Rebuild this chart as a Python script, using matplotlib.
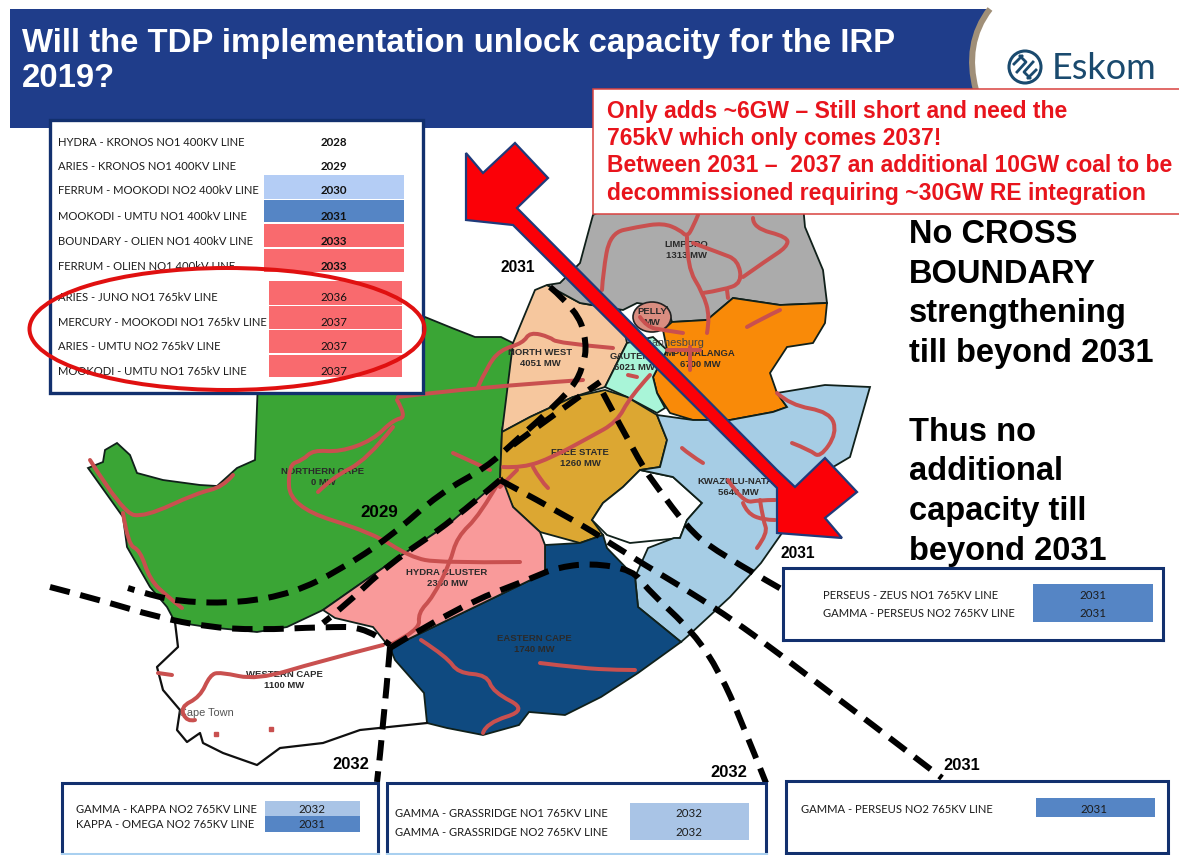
import matplotlib
matplotlib.use("Agg")
import matplotlib.pyplot as plt
from matplotlib.patches import Polygon, Rectangle, Ellipse, Circle, PathPatch
from matplotlib.path import Path

NAVY = "#12306e"
RED_LINE = "#c9504f"
SANS = "Liberation Sans"
LABEL = "Lato"

# ---- text content
TITLE = ["Will the TDP implementation unlock capacity for the IRP", "2019?"]
NOTE = ["Only adds ~6GW \u2013 Still short and need the",
        "765kV which only comes 2037!",
        "Between 2031 \u2013  2037 an additional 10GW coal to be",
        "decommissioned requiring ~30GW RE integration"]
SIDE1 = ["No CROSS", "BOUNDARY", "strengthening", "till beyond 2031"]
SIDE2 = ["Thus no", "additional", "capacity till", "beyond 2031"]

# ---- main table
main_lines = ["HYDRA - KRONOS NO1 400KV LINE", "ARIES - KRONOS NO1 400KV LINE",
              "FERRUM - MOOKODI NO2 400kV LINE", "MOOKODI - UMTU NO1 400kV LINE",
              "BOUNDARY - OLIEN NO1 400kV LINE", "FERRUM - OLIEN NO1 400kV LINE",
              "ARIES - JUNO NO1 765kV LINE", "MERCURY - MOOKODI NO1 765kV LINE",
              "ARIES - UMTU NO2 765kV LINE", "MOOKODI - UMTU NO1 765kV LINE"]
main_years = [2028, 2029, 2030, 2031, 2033, 2033, 2036, 2037, 2037, 2037]
main_y = [142, 167, 191, 216, 241, 266, 297, 322, 346, 371]
main_fill = [None, None, "#b4cdf5", "#5585c5", "#f96a6e", "#f96a6e",
             "#f96a6e", "#f96a6e", "#f96a6e", "#f96a6e"]
main_bar_top = [0, 0, 175, 200, 224, 249, 281, 306, 330, 355]
main_bar_bot = [0, 0, 199, 222, 247, 272, 305, 329, 353, 377]
main_bar_l = [0, 0, 264, 264, 264, 264, 269, 269, 269, 269]
main_bar_r = [0, 0, 404, 404, 404, 404, 402, 402, 402, 402]

# ---- small tables
small_boxes = [(62, 783, 378, 854, "#a9d0f0"), (387, 783, 766, 854, "#a9d0f0"),
               (786, 781, 1168, 853, NAVY), (783, 568, 1163, 640, NAVY)]
small_labels = [("GAMMA - KAPPA NO2 765KV LINE", 76, 809), ("KAPPA - OMEGA NO2 765KV LINE", 76, 824),
                ("GAMMA - GRASSRIDGE NO1 765KV LINE", 395, 813), ("GAMMA - GRASSRIDGE NO2 765KV LINE", 395, 832),
                ("GAMMA - PERSEUS NO2 765KV LINE", 801, 809),
                ("PERSEUS - ZEUS NO1 765KV LINE", 823, 595), ("GAMMA - PERSEUS NO2 765KV LINE", 823, 613)]
small_bars = [(265, 801, 360, 816, "#a9c4e6"), (265, 816, 360, 832, "#5585c5"),
              (630, 803, 749, 840, "#a9c4e6"), (1036, 798, 1155, 817, "#5585c5"),
              (1033, 584, 1153, 622, "#5585c5")]
small_years = [("2032", 312, 809), ("2031", 312, 824), ("2032", 689, 813), ("2032", 689, 832),
               ("2031", 1094, 809), ("2031", 1093, 595), ("2031", 1093, 613)]
year_tags = [("2031", 518, 267, 15.5), ("2029", 379, 512, 17), ("2031", 798, 553, 15.5),
             ("2032", 351, 764, 16.5), ("2032", 729, 772, 16.5), ("2031", 962, 765, 16.5)]

# ---- map regions
northern_cape = [(258, 380), (425, 317), (452, 328), (475, 337), (501, 337), (513, 343), (512, 383), (502, 430),
                 (500, 480), (483, 500), (450, 523), (390, 563), (323, 610), (287, 627), (257, 632), (207, 627),
                 (175, 622), (167, 607), (150, 587), (127, 547), (123, 517), (88, 468), (103, 462), (105, 450),
                 (117, 443), (130, 455), (137, 473), (163, 480), (200, 485), (217, 486), (237, 468), (255, 460)]
north_west = [(502, 432), (513, 343), (535, 290), (547, 285), (580, 303), (620, 310), (627, 343), (605, 387),
              (573, 397), (530, 417)]
limpopo = [(587, 237), (580, 263), (560, 283), (547, 285), (580, 303), (623, 310), (637, 303), (667, 307),
           (672, 322), (707, 320), (733, 298), (780, 305), (827, 303), (823, 270), (805, 227), (803, 205),
           (613, 205), (593, 215)]
mpumalanga = [(672, 322), (707, 320), (733, 298), (780, 305), (827, 303), (825, 323), (813, 343), (787, 347),
              (770, 373), (777, 393), (787, 407), (773, 412), (730, 420), (693, 420), (670, 413), (657, 393),
              (653, 377), (667, 350), (663, 330)]
gauteng = [(627, 343), (653, 337), (667, 350), (653, 377), (657, 393), (665, 408), (657, 413), (627, 397), (605, 387)]
free_state = [(502, 432), (530, 417), (573, 397), (605, 390), (627, 397), (657, 415), (667, 440), (660, 467),
              (640, 470), (623, 487), (603, 503), (592, 520), (603, 535), (580, 543), (540, 532), (513, 507), (500, 480)]
lesotho = [(640, 470), (673, 477), (702, 503), (687, 520), (680, 538), (630, 543), (607, 535), (592, 520),
           (603, 503), (623, 487)]
kzn = [(657, 415), (693, 420), (730, 420), (773, 412), (787, 407), (777, 393), (825, 385), (870, 387), (850, 457),
       (823, 473), (782, 533), (761, 563), (730, 597), (689, 635), (681, 642), (638, 607), (635, 577), (648, 548),
       (674, 538), (680, 538), (687, 520), (702, 503), (673, 477), (640, 470), (660, 467), (667, 440)]
eastern_cape = [(390, 648), (545, 573), (545, 545), (580, 543), (603, 535), (607, 548), (635, 577), (638, 607),
                (681, 642), (638, 673), (601, 697), (565, 715), (529, 712), (519, 725), (483, 735), (447, 728),
                (427, 723), (424, 693), (395, 660)]
hydra = [(323, 610), (390, 563), (450, 523), (502, 478), (513, 507), (540, 532), (545, 545), (545, 573), (390, 648),
         (373, 627), (335, 618)]
western_coast = [(175, 622), (178, 647), (157, 667), (163, 690), (180, 710), (177, 730), (187, 742), (200, 733),
                 (203, 743), (223, 753), (257, 765), (280, 748), (323, 743), (360, 730), (427, 723)]
region_layers = [(northern_cape, "#3aa535"), (north_west, "#f6c79e"), (limpopo, "#ababab"), (mpumalanga, "#f98a08"),
                 (gauteng, "#a9f5d8"), (free_state, "#dca732"), (lesotho, "#ffffff"), (kzn, "#a6cde5"),
                 (eastern_cape, "#0f4a80"), (hydra, "#f99a9a")]
map_labels = [("LIMPOPO\n1313 MW", 686, 250), ("PELLY\nMW", 652, 317), ("NORTH WEST\n4051 MW", 540, 358),
              ("GAUTENG\n6021 MW", 634, 362), ("MPUMALANGA\n6700 MW", 700, 359), ("FREE STATE\n1260 MW", 580, 458),
              ("KWAZULU-NATAL\n5640 MW", 738, 487), ("NORTHERN CAPE\n0 MW", 323, 477), ("HYDRA CLUSTER\n2360 MW", 447, 578),
              ("EASTERN CAPE\n1740 MW", 534, 644), ("WESTERN CAPE\n1100 MW", 284, 680)]

# ---- transmission lines
red_lines = [
    [(602, 290), (603, 273), (610, 233), (637, 227), (663, 223), (680, 230), (687, 237), (693, 227), (698, 215)],
    [(687, 237), (687, 267), (703, 293), (710, 317), (707, 333)],
    [(693, 243), (720, 253), (738, 260), (742, 283), (723, 290), (703, 293)],
    [(753, 218), (753, 228), (788, 237), (787, 247), (767, 260), (743, 277)],
    [(727, 290), (728, 298)],
    [(747, 327), (763, 318), (780, 310)],
    [(640, 317), (647, 327), (663, 330), (683, 333)],
    [(690, 347), (690, 370)], [(667, 350), (700, 350)], [(628, 375), (637, 377)],
    [(398, 397), (478, 387), (583, 380)],
    [(478, 387), (487, 367), (500, 350), (523, 343), (530, 332), (550, 337), (557, 343), (613, 348)],
    [(397, 400), (407, 417), (393, 420), (373, 440), (340, 452), (313, 450), (303, 460), (288, 465), (290, 507),
     (373, 533), (410, 557), (440, 563), (520, 562)],
    [(393, 427), (367, 460), (333, 477), (318, 492)],
    [(90, 460), (123, 513), (145, 517), (197, 493), (223, 487), (233, 475)],
    [(123, 513), (128, 545), (140, 550), (150, 580), (168, 597), (182, 608)],
    [(500, 480), (480, 515), (457, 537), (450, 563), (433, 597), (418, 613), (420, 630), (390, 645)],
    [(383, 645), (317, 662), (257, 680), (220, 672), (210, 675), (200, 697), (180, 707), (187, 722), (195, 720)],
    [(158, 673), (172, 675)],
    [(453, 453), (490, 470)],
    [(503, 467), (523, 468), (553, 457), (590, 437), (617, 422), (630, 397), (650, 375)],
    [(533, 467), (540, 480), (548, 488)],
    [(517, 470), (500, 487)],
    [(777, 393), (790, 405), (830, 412), (837, 433), (820, 458), (810, 450), (792, 443)],
    [(682, 448), (690, 455), (703, 463)],
    [(728, 480), (743, 503), (760, 500), (775, 500)],
    [(743, 503), (747, 513), (763, 520), (775, 520)],
    [(760, 500), (763, 520), (768, 533), (757, 548)],
    [(421, 640), (447, 657), (458, 673), (487, 675), (493, 692), (528, 710), (486, 723), (483, 733)],
    [(540, 663), (580, 668), (617, 670), (635, 670)],
]
red_dots = [(216, 734), (271, 729)]

# ---- dashed corridors
dashed = [
    [(550, 287), (577, 310), (587, 343), (583, 367), (573, 387), (547, 413), (513, 443), (487, 467), (440, 493),
     (390, 537), (340, 570), (293, 593), (240, 603), (180, 602), (140, 592), (128, 588)],
    [(50, 587), (100, 600), (157, 617), (207, 627), (257, 630), (323, 627), (367, 627), (390, 645)],
    [(500, 480), (450, 523), (390, 563), (340, 610), (323, 623)],
    [(390, 648), (457, 607), (535, 577), (555, 568), (591, 563), (633, 570), (648, 590), (694, 633), (720, 673),
     (741, 720), (766, 783)],
    [(500, 480), (580, 523), (620, 550), (715, 607), (792, 663), (942, 778)],
    [(603, 393), (640, 463), (657, 487), (687, 527), (713, 550), (783, 590)],
    [(390, 647), (383, 730), (377, 782)],
    [(513, 445), (560, 410), (600, 382)],
]

arrow_outline = [(466, 153), (483, 173), (515, 143), (548, 178), (517, 208), (777, 470), (795, 487), (825, 458),
                 (857, 492), (825, 518), (842, 538), (777, 533), (777, 488), (513, 225), (466, 220)]
header_arc = [(990, 9), (972, 32), (968, 60), (976, 90)]
logo_strokes = [[(1017, 72), (1026, 62), (1020, 56)], [(1033, 62), (1024, 72), (1030, 78)],
                [(1014, 64), (1022, 56)], [(1036, 70), (1028, 78)]]

# ---- figure: the axes span the whole canvas in pixel units
fig = plt.figure(figsize=(11.79, 8.55), dpi=100)
ax = fig.add_axes([0, 0, 1, 1])
ax.set_xlim(0, 1179)
ax.set_ylim(855, 0)
ax.axis("off")


def px(v):
    return v * 0.72


def rounded(pts):
    """Path through the end points, with the inner vertices as Bezier control points."""
    if len(pts) < 3:
        return Path(pts)
    verts = [pts[0]]
    codes = [Path.MOVETO]
    for i in range(1, len(pts) - 1):
        end = pts[i + 1] if i == len(pts) - 2 else ((pts[i][0] + pts[i + 1][0]) / 2, (pts[i][1] + pts[i + 1][1]) / 2)
        verts += [pts[i], end]
        codes += [Path.CURVE3, Path.CURVE3]
    return Path(verts, codes)


# map
for poly, col in region_layers:
    ax.add_patch(Polygon(poly, closed=True, fc=col, ec="#10201a", lw=1.3, zorder=2))
ax.add_patch(Ellipse((652, 317), 38, 30, fc="#d98d80", ec="#222222", lw=1.2, zorder=3))
ax.plot(*zip(*western_coast), color="#101010", lw=1.6, zorder=3)
for t, x, y in map_labels:
    ax.text(x, y, t, fontsize=px(9.5), fontfamily=SANS, fontweight="bold", color="#2a2a2a", ha="center", va="center",
            zorder=4, linespacing=1.25)
ax.text(670, 343, "Johannesburg", fontsize=px(11), fontfamily=SANS, color="#444444", ha="center", va="center", zorder=4)
ax.text(206, 713, "Cape Town", fontsize=px(11), fontfamily=SANS, color="#555555", ha="center", va="center", zorder=4)
for ln in red_lines:
    ax.add_patch(PathPatch(rounded(ln), fc="none", ec=RED_LINE, lw=px(4), capstyle="round", joinstyle="round", zorder=5))
ax.plot(*zip(*red_dots), ls="", marker="s", ms=px(5), color=RED_LINE, zorder=5)
for ln in dashed:
    ax.add_patch(PathPatch(rounded(ln), fc="none", ec="black", lw=px(6), ls=(0, (3.4, 1.8)), capstyle="butt", zorder=6))

# header
ax.add_patch(Rectangle((10, 9), 955, 119, fc="#1f3d8a", ec="none", zorder=7))
ax.add_patch(Rectangle((965, 90), 30, 40, fc="white", ec="none", zorder=7))
ax.add_patch(PathPatch(Path([header_arc[0], header_arc[1], header_arc[2], header_arc[3], (955, 90), (955, 9), header_arc[0]],
                            [Path.MOVETO, Path.CURVE4, Path.CURVE4, Path.CURVE4, Path.LINETO, Path.LINETO, Path.CLOSEPOLY]),
                       fc="#1f3d8a", ec="none", zorder=7))
ax.add_patch(PathPatch(Path(header_arc, [Path.MOVETO, Path.CURVE4, Path.CURVE4, Path.CURVE4]),
                       fc="none", ec="#a08f78", lw=px(6), capstyle="butt", zorder=8))
ax.text(22, 52, TITLE[0], fontsize=px(32.9), fontweight="bold", fontfamily=SANS, color="white", zorder=9)
ax.text(22, 87, TITLE[1], fontsize=px(32.9), fontweight="bold", fontfamily=SANS, color="white", zorder=9)

# logo
ax.add_patch(Circle((1025, 67), 16, fc="none", ec="#1a4a6e", lw=2.2, zorder=9))
for s in logo_strokes:
    ax.plot(*zip(*s), color="#1a4a6e", lw=2, zorder=9)
ax.text(1052, 79, "Eskom", fontsize=px(36), fontfamily="Lato", color="#1a4a6e", zorder=9)

# note box
ax.add_patch(Rectangle((593, 89), 590, 125, fc="white", ec="#d9413f", lw=1.1, zorder=10))
for t, y in zip(NOTE, [118, 145, 172, 200]):
    ax.text(607, y, t, fontsize=px(22.9), fontweight="bold", fontfamily=SANS, color="#e8141c", zorder=11)

# arrow
ax.add_patch(Polygon(arrow_outline, closed=True, fc="#fb0007", ec="#1f3a7a", lw=1.6, joinstyle="miter", zorder=9))

# side text
for t, y in zip(SIDE1, [243, 283, 322, 362]):
    ax.text(909, y, t, fontsize=px(32.7), fontweight="bold", fontfamily=SANS, color="black", zorder=9)
for t, y in zip(SIDE2, [441, 480, 520, 560]):
    ax.text(909, y, t, fontsize=px(32.7), fontweight="bold", fontfamily=SANS, color="black", zorder=9)

# main table
ax.add_patch(Rectangle((50, 120), 373, 273, fc="white", ec=NAVY, lw=2.4, zorder=12))
for name, yr, y, c, t, b, l, r in zip(main_lines, main_years, main_y, main_fill,
                                      main_bar_top, main_bar_bot, main_bar_l, main_bar_r):
    if c:
        ax.add_patch(Rectangle((l, t), r - l, b - t, fc=c, ec="none", zorder=13))
    ax.text(58, y, name, fontsize=px(11.2), fontfamily=LABEL, color="#1c1c1c", va="center", zorder=14)
    ax.text(334, y, str(yr), fontsize=px(11.5), fontfamily=LABEL, color="#111111", ha="center", va="center",
            fontweight="bold" if yr < 2036 else "normal", zorder=14)
ax.add_patch(Ellipse((227, 329), 395, 122, fc="none", ec="#e01010", lw=px(4), zorder=15))

# small tables
for x0, y0, x1, y1, edge in small_boxes:
    ax.add_patch(Rectangle((x0, y0), x1 - x0, y1 - y0, fc="white", ec="none", zorder=12))
    ax.plot([x0, x0, x1, x1], [y1, y0, y0, y1], color=NAVY, lw=2.2, solid_joinstyle="miter", zorder=12.5)
    ax.plot([x0, x1], [y1, y1], color=edge, lw=2.2, zorder=12.5)
for x0, y0, x1, y1, c in small_bars:
    ax.add_patch(Rectangle((x0, y0), x1 - x0, y1 - y0, fc=c, ec="none", zorder=13))
for t, x, y in small_labels:
    ax.text(x, y, t, fontsize=px(11.2), fontfamily=LABEL, color="#1c1c1c", va="center", zorder=14)
for t, x, y in small_years:
    ax.text(x, y, t, fontsize=px(11.5), fontfamily=LABEL, color="#1c1c1c", ha="center", va="center", zorder=14)
for t, x, y, s in year_tags:
    ax.text(x, y, t, fontsize=px(s), fontfamily=SANS, fontweight="bold", color="black", ha="center", va="center", zorder=16)

fig.savefig("out.png", dpi=100, facecolor="white")
